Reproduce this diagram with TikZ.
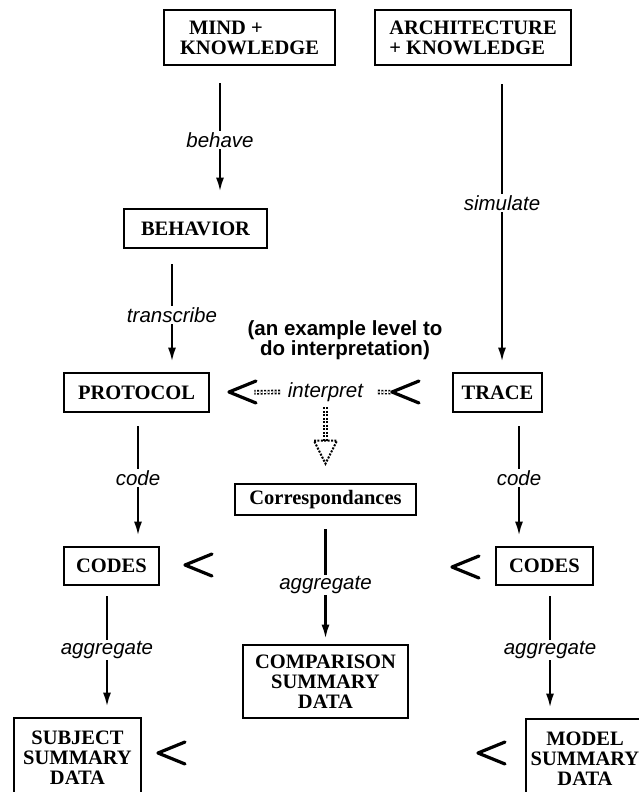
\documentclass[tikz,border=0pt]{standalone}
\usepackage{fontspec}
\setmainfont{Liberation Serif}
\setsansfont{Liberation Sans}
\usetikzlibrary{arrows.meta}
\usetikzlibrary{calc}

\begin{document}
\begin{tikzpicture}[x=1pt, y=-1pt,
    box/.style={draw, line width=2.7pt, inner sep=0pt, align=center,
        font=\fontsize{20.5}{20}\selectfont\bfseries},
    lbl/.style={inner sep=1.5pt, font=\sffamily\itshape\fontsize{20.5}{22}\selectfont},
    note/.style={inner sep=0pt, align=center,
        font=\sffamily\bfseries\fontsize{20.5}{19}\selectfont},
    link/.style={draw, line width=2.3pt, shorten <=13pt},
    flow/.style={draw, line width=2.3pt, shorten >=10pt, -{Latex[length=14pt,width=8pt]}},
    dots/.style={draw, double, double distance=1.3pt, line width=1.7pt,
        dash pattern=on 2pt off 1.5pt},
    dothead/.style={draw, line width=2pt, dash pattern=on 2pt off 1.4pt},
    chev/.pic={\draw[line width=3.2pt, line join=round, line cap=round] (27,-11) -- (0,0) -- (27,11);}]
    \useasboundingbox (0,0) rectangle (639,792);
    \clip (0,0) rectangle (639,792);

    % boxes
    \node[box, minimum width=171pt, minimum height=55pt, align=left] (mind) at (249.5,37.5) {\hspace*{9pt}MIND +\\KNOWLEDGE};
    \node[box, minimum width=196pt, minimum height=55pt, align=left] (arch) at (473,37.5) {ARCHITECTURE\\+ KNOWLEDGE};
    \node[box, minimum width=143pt, minimum height=39pt] (behavior) at (195.5,228.5) {BEHAVIOR};
    \node[box, minimum width=145pt, minimum height=39pt] (protocol) at (136.5,392.5) {PROTOCOL};
    \node[box, minimum width=89pt, minimum height=39pt] (trace) at (497.5,392.5) {TRACE};
    \node[box, minimum width=181pt, minimum height=31pt] (corr) at (325.5,499.5) {Correspondances};
    \node[box, minimum width=95pt, minimum height=38pt] (codesl) at (111.5,566) {CODES};
    \node[box, minimum width=97pt, minimum height=38pt] (codesr) at (544.5,566) {CODES};
    \node[box, minimum width=165pt, minimum height=73pt] (comp) at (325.5,681.5) {COMPARISON\\SUMMARY\\DATA};
    \node[box, minimum width=127pt, minimum height=80pt] (subj) at (77.5,758) {SUBJECT\\SUMMARY\\DATA};
    \node[box, minimum width=118pt, minimum height=80pt] (model) at (585,759) {MODEL\\SUMMARY\\DATA};

    % labels
    \node[lbl] (behave) at (220,140) {behave};
    \node[lbl] (simulate) at (502,203) {simulate};
    \node[lbl] (transcribe) at (172,315) {transcribe};
    \node[lbl] (codel) at (138,478) {code};
    \node[lbl] (coder) at (519,478) {code};
    \node[lbl] (aggm) at (325.5,585) {aggregate};
    \node[lbl] (aggl) at (107,650) {aggregate};
    \node[lbl] (aggr) at (550,650) {aggregate};
    \node[lbl] (interp) at (325.5,392) {interpret};
    \node[note] (level) at (345,340.5) {(an example level to\\do interpretation)};

    % connectors
    \draw[link, shorten <=17pt] (mind.south -| behave) -- (behave);
    \draw[flow, shorten >=16pt] (behave) -- (behavior.north -| behave);
    \draw[link, shorten <=18pt] (arch.south -| simulate) -- (simulate);
    \draw[flow] (simulate) -- (trace.north -| simulate);
    \draw[link, shorten <=15pt] (behavior.south -| transcribe) -- (transcribe);
    \draw[flow] (transcribe) -- (protocol.north -| transcribe);
    \draw[link] (protocol.south -| codel) -- (codel);
    \draw[flow] (codel) -- (codesl.north -| codel);
    \draw[link] (trace.south -| coder) -- (coder);
    \draw[flow] (coder) -- (codesr.north -| coder);
    \draw[link] (corr.south -| aggm) -- (aggm);
    \draw[flow, shorten >=5pt] (aggm) -- (comp.north -| aggm);
    \draw[link, shorten <=10pt] (codesl.south -| aggl) -- (aggl);
    \draw[flow] (aggl) -- (subj.north -| aggl);
    \draw[link, shorten <=10pt] (codesr.south -| aggr) -- (aggr);
    \draw[flow] (aggr) -- (model.north -| aggr);

    % interpretation
    \draw[dots, shorten <=6pt, shorten >=44pt] (interp.west) -- (protocol.east);
    \draw[dots, shorten <=13pt, shorten >=61pt] (interp.east) -- (trace.west);
    \draw[dots, shorten <=4pt, shorten >=42pt] (interp.south) -- (corr.north);
    \draw[dothead] ($(corr.north)+(-11.5,-42)$) -- ($(corr.north)+(11.5,-42)$)
        -- ($(corr.north)+(0,-19)$) -- cycle;
    \pic at (229,392) {chev};
    \pic at (392,392) {chev};

    % comparison marks
    \pic at (185,565) {chev};
    \pic at (452,567) {chev};
    \pic at (158,753) {chev};
    \pic at (478,753) {chev};
\end{tikzpicture}
\end{document}
